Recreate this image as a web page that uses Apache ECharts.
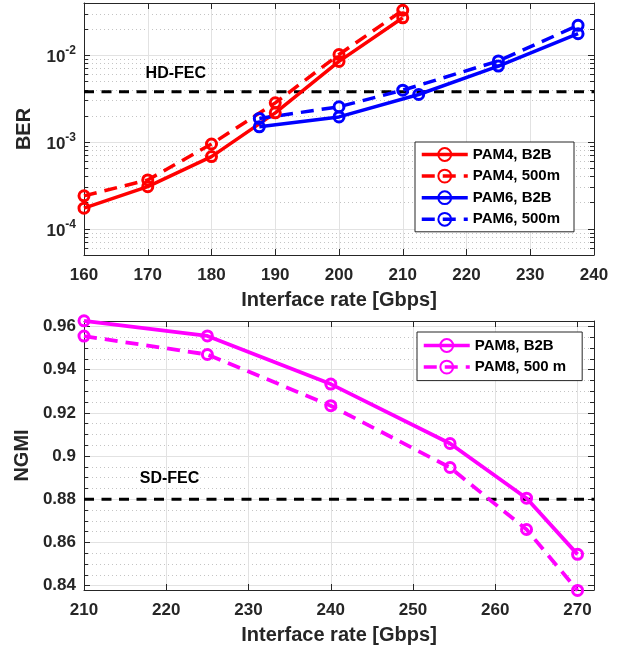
<!DOCTYPE html>
<html>
<head>
<meta charset="utf-8">
<script src="https://cdn.jsdelivr.net/npm/echarts@6/dist/echarts.min.js"></script>
<style>html,body{margin:0;padding:0;background:#fff}#main{width:627px;height:653px}</style>
</head>
<body>
<div id="main"></div>
<script>
// top panel: BER vs interface rate
const rates4 = [160, 170, 180, 190, 200, 210];
const pam4B2B = [1.73e-4, 3.06e-4, 6.8e-4, 2.17e-3, 8.5e-3, 2.7e-2];
const pam4500 = [2.4e-4, 3.66e-4, 9.5e-4, 2.83e-3, 1.02e-2, 3.3e-2];
const rates6B2B = [187.5, 200, 212.5, 225, 237.5];
const pam6B2B = [1.5e-3, 1.95e-3, 3.53e-3, 7.5e-3, 1.77e-2];
const rates6500 = [187.5, 200, 210, 225, 237.5];
const pam6500 = [1.87e-3, 2.55e-3, 3.96e-3, 8.6e-3, 2.21e-2];
const hdFec = 3.8e-3;
const berTicks = [1e-4, 1e-3, 1e-2];
const rateTicksTop = [160, 170, 180, 190, 200, 210, 220, 230, 240];

// bottom panel: NGMI vs interface rate
const rates8 = [210, 225, 240, 254.5, 263.8, 270];
const pam8B2B = [0.9626, 0.9556, 0.9333, 0.9058, 0.8805, 0.8545];
const pam8500 = [0.9555, 0.947, 0.9233, 0.8947, 0.866, 0.8378];
const sdFec = 0.88;
const ngmiTicks = [0.84, 0.86, 0.88, 0.9, 0.92, 0.94, 0.96];
const rateTicksBot = [210, 220, 230, 240, 250, 260, 270];

// minor ticks (axis decoration only)
const berMinor = [];
[1e-5, 1e-4, 1e-3, 1e-2].forEach(d => { for (let m = 2; m < 10; m++) berMinor.push(+(m * d).toPrecision(2)); });
const ngmiMinor = [];
for (let i = 0; i <= 30; i++) {
  const v = +(0.835 + i * 0.005).toFixed(3);
  if (ngmiTicks.indexOf(v) < 0) ngmiMinor.push(v);
}

const txt = '#262626';
const font = 'Liberation Sans';
const lbl = { fontFamily: font, fontWeight: 'bold', fontSize: 17, color: txt };
const ttl = { fontFamily: font, fontWeight: 'bold', fontSize: 20, color: txt };
const major = '#e2e2e2';
const minorC = '#c4c4c4';

const pairs = (xs, ys) => xs.map((x, i) => [x, ys[i]]);

function xPair(gi, min, max, ticks) {
  return [
    { gridIndex: gi, type: 'value', min: min, max: max, position: 'bottom',
      name: 'Interface rate [Gbps]', nameLocation: 'middle', nameGap: 35, nameTextStyle: ttl,
      axisLine: { lineStyle: { color: txt, width: 1 } },
      axisTick: { inside: true, length: 6, customValues: ticks, lineStyle: { color: txt } },
      axisLabel: Object.assign({ margin: 12, customValues: ticks }, lbl),
      splitLine: { show: true, lineStyle: { color: major, width: 1 } } },
    { gridIndex: gi, type: 'value', min: min, max: max, position: 'top',
      axisLine: { lineStyle: { color: txt, width: 1 } },
      axisTick: { inside: true, length: 6, customValues: ticks, lineStyle: { color: txt } },
      axisLabel: { show: false }, splitLine: { show: false } }
  ];
}

function yQuad(gi, type, min, max, ticks, minor, name, labelOpt) {
  const base = { gridIndex: gi, type: type, min: min, max: max };
  return [
    Object.assign({}, base, { position: 'left', name: name, nameLocation: 'middle', nameGap: 50, nameTextStyle: ttl,
      axisLine: { show: true, lineStyle: { color: txt, width: 1 } },
      axisTick: { inside: true, length: 6, customValues: ticks, lineStyle: { color: txt } },
      axisLabel: Object.assign({ margin: 8, customValues: ticks }, lbl, labelOpt || {}),
      splitLine: { show: true, lineStyle: { color: major, width: 1 } } }),
    Object.assign({}, base, { position: 'left',
      axisLine: { show: false },
      axisTick: { inside: true, length: 4, customValues: minor, lineStyle: { color: txt } },
      axisLabel: { show: false },
      splitLine: { show: true, lineStyle: { color: minorC, width: 1, type: [1, 3] } } }),
    Object.assign({}, base, { position: 'right',
      axisLine: { show: true, lineStyle: { color: txt, width: 1 } },
      axisTick: { inside: true, length: 6, customValues: ticks, lineStyle: { color: txt } },
      axisLabel: { show: false }, splitLine: { show: false } }),
    Object.assign({}, base, { position: 'right',
      axisLine: { show: false },
      axisTick: { inside: true, length: 4, customValues: minor, lineStyle: { color: txt } },
      axisLabel: { show: false }, splitLine: { show: false } })
  ];
}

function dataSeries(name, color, dashed, xs, ys, xi, yi, lw) {
  return {
    name: name, type: 'line', xAxisIndex: xi, yAxisIndex: yi, clip: false, z: 5,
    data: pairs(xs, ys), color: color,
    symbol: 'circle', symbolSize: 10,
    itemStyle: { color: 'rgba(255,255,255,0)', borderColor: color, borderWidth: 3 },
    lineStyle: { color: color, width: lw, type: dashed ? [13, 8] : 'solid' }
  };
}

function threshold(name, xs, y, xi, yi, labelAt) {
  return {
    name: name, type: 'line', xAxisIndex: xi, yAxisIndex: yi, z: 3,
    data: xs.map(x => [x, y]), symbol: 'none', silent: true,
    lineStyle: { color: '#000', width: 3, type: [10, 7.5] },
    markPoint: {
      symbol: 'circle', symbolSize: 1, itemStyle: { color: 'rgba(0,0,0,0)' },
      label: { show: true, position: 'inside', formatter: name, fontFamily: font, fontWeight: 'bold', fontSize: 16, color: '#000' },
      data: [{ coord: labelAt }]
    }
  };
}

const legendBase = {
  orient: 'vertical', backgroundColor: '#fff', borderColor: txt, borderWidth: 1,
  itemWidth: 46, itemHeight: 16, itemGap: 6.6,
  lineStyle: { width: 3.5 },
  textStyle: { fontFamily: font, fontWeight: 'bold', fontSize: 15, color: '#000' }
};

const chart = echarts.init(document.getElementById('main'), null, { renderer: 'canvas' });
chart.setOption({
  animation: false,
  backgroundColor: '#fff',
  grid: [
    { left: 84, right: 33, top: 3, height: 252 },
    { left: 84, right: 33, top: 321, height: 269 }
  ],
  xAxis: [].concat(xPair(0, 160, 240, rateTicksTop), xPair(1, 210, 272, rateTicksBot)),
  yAxis: [].concat(
    yQuad(0, 'log', 5e-5, 0.04, berTicks, berMinor, 'BER', {
      formatter: v => '{b|10}{s|' + Math.round(Math.log10(v)) + '}',
      rich: {
        b: { fontFamily: font, fontWeight: 'bold', fontSize: 17, color: txt, verticalAlign: 'bottom' },
        s: { fontFamily: font, fontWeight: 'bold', fontSize: 12, color: txt, padding: [0, 0, 9, 0], verticalAlign: 'top' }
      }
    }),
    yQuad(1, 'value', 0.838, 0.9625, ngmiTicks, ngmiMinor, 'NGMI')
  ),
  legend: [
    Object.assign({}, legendBase, { left: 415, top: 142, padding: [5, 14, 5, 5],
      data: ['PAM4, B2B', 'PAM4, 500m', 'PAM6, B2B', 'PAM6, 500m'] }),
    Object.assign({}, legendBase, { left: 417, top: 332, padding: [6, 16, 6, 5],
      data: ['PAM8, B2B', 'PAM8, 500 m'] })
  ],
  series: [
    threshold('HD-FEC', [160, 240], hdFec, 0, 0, [174.4, 6.2e-3]),
    threshold('SD-FEC', [210, 272], sdFec, 2, 4, [220.4, 0.8897]),
    dataSeries('PAM4, B2B', '#ff0000', false, rates4, pam4B2B, 0, 0, 3.5),
    dataSeries('PAM4, 500m', '#ff0000', true, rates4, pam4500, 0, 0, 3.5),
    dataSeries('PAM6, B2B', '#0000ff', false, rates6B2B, pam6B2B, 0, 0, 3.5),
    dataSeries('PAM6, 500m', '#0000ff', true, rates6500, pam6500, 0, 0, 3.5),
    dataSeries('PAM8, B2B', '#ff00ff', false, rates8, pam8B2B, 2, 4, 3.8),
    dataSeries('PAM8, 500 m', '#ff00ff', true, rates8, pam8500, 2, 4, 3.8)
  ]
});
</script>
</body>
</html>
